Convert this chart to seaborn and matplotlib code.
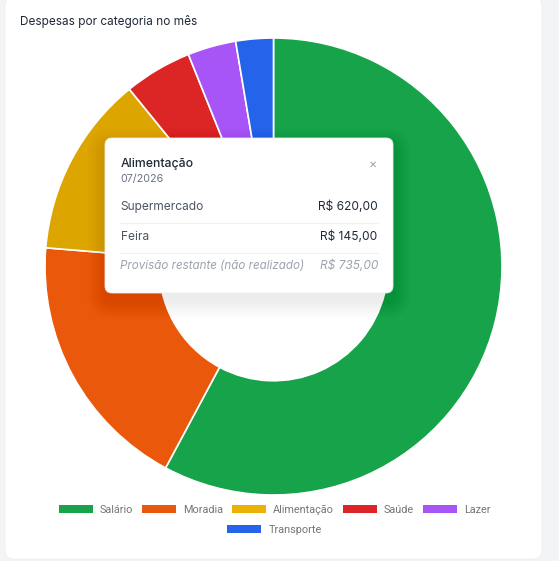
import matplotlib
matplotlib.use("Agg")
import matplotlib.pyplot as plt
from matplotlib.patches import FancyBboxPatch, Patch
import seaborn as sns

W, H = 559, 561
categories = ["Salário", "Moradia", "Alimentação", "Saúde", "Lazer", "Transporte"]
values = [6760, 2160, 1500, 560, 400, 310]
colors = ["#16A34A", "#EA580C", "#DDA500", "#DC2626", "#A855F7", "#2563EB"]
legend_colors = ["#16A34A", "#EA580C", "#EAB308", "#DC2626", "#A855F7", "#2563EB"]
title = "Despesas por categoria no mês"
tip_title = "Alimentação"
tip_date = "07/2026"
tip_rows = [("Supermercado", "R$ 620,00"), ("Feira", "R$ 145,00")]
tip_note = ("Provisão restante (não realizado)", "R$ 735,00")

sns.set_theme(style="white")
plt.rcParams["font.family"] = ["Inter", "DejaVu Sans"]
pal = sns.color_palette(colors)

fig = plt.figure(figsize=(W / 100, H / 100), dpi=100, facecolor="#F3F4F6")
bg = fig.add_axes([0, 0, 1, 1])
bg.set_xlim(0, W); bg.set_ylim(H, 0); bg.axis("off")

# card
bg.add_patch(FancyBboxPatch((5, -3), 537, 562, boxstyle="round,pad=0,rounding_size=9",
                            fc="white", ec="#ECEDEF", lw=0.5, zorder=1))

# donut
R = 228.5
cx, cy = 273.5, 266.5
ax = fig.add_axes([(cx - R) / W, 1 - (cy + R) / H, 2 * R / W, 2 * R / H], zorder=2)
ax.pie(values, colors=pal, startangle=90, counterclock=False, radius=1,
       wedgeprops=dict(width=0.5, edgecolor="white", linewidth=1.2))
ax.set_xlim(-1, 1); ax.set_ylim(-1, 1); ax.set_aspect("equal")
ax.patch.set_alpha(0)

# overlay
ov = fig.add_axes([0, 0, 1, 1], zorder=3)
ov.set_xlim(0, W); ov.set_ylim(H, 0); ov.axis("off"); ov.patch.set_alpha(0)

ov.text(20, 21, title, fontsize=8.5, color="#1F2937", va="center", ha="left")

# tooltip shadow
for i in range(18):
    g = 18 - i
    ov.add_patch(FancyBboxPatch((105 - g, 138 + 8 - g), 288 + g * 2, 155 + g * 2,
                                boxstyle="round,pad=0,rounding_size=%g" % (7 + g),
                                fc="black", ec="none", alpha=0.0045, zorder=4))
ov.add_patch(FancyBboxPatch((105, 138), 288, 155, boxstyle="round,pad=0,rounding_size=7",
                            fc="white", ec="#ECECEE", lw=0.6, zorder=5))
ov.text(120.5, 163.5, tip_title, fontsize=8.8, color="#1F2937", va="center", weight="medium", zorder=6)
ov.text(120.5, 178.5, tip_date, fontsize=7.7, color="#6B7280", va="center", zorder=6)
ov.text(373, 164.5, "×", fontsize=9, color="#9CA3AF", va="center", ha="center", zorder=6)
ys = [207, 237]
for (name, val), y in zip(tip_rows, ys):
    ov.text(120.5, y, name, fontsize=8.6, color="#4B5563", va="center", zorder=6)
    ov.text(377.5, y, val, fontsize=8.6, color="#1F2937", va="center", ha="right", zorder=6)
for y in (222.5, 252.5):
    ov.plot([120, 378], [y, y], color="#F0F1F3", lw=0.9, zorder=6)
ov.text(120.5, 265.5, tip_note[0], fontsize=8.35, color="#9CA3AF", va="center", style="italic", zorder=6)
ov.text(378, 265.5, tip_note[1], fontsize=8.6, color="#9CA3AF", va="center", ha="right", style="italic", zorder=6)

# legend
def legend_row(names, cols, y):
    handles = [Patch(fc=c, ec="none", label=n) for n, c in zip(names, cols)]
    lg = ov.legend(handles=handles, loc="center", bbox_to_anchor=(274.5, y), bbox_transform=ov.transData,
                   ncol=len(names), frameon=False, handlelength=3.14, handleheight=0.8,
                   handletextpad=0.66, columnspacing=0.8, borderpad=0, borderaxespad=0,
                   prop={"family": "Roboto", "size": 7.8}, labelcolor="#757575")
    return lg

first = legend_row(categories[:5], legend_colors[:5], 510)
ov.add_artist(first)
legend_row(categories[5:], legend_colors[5:], 530)

fig.savefig("out.png", dpi=100, facecolor=fig.get_facecolor())
